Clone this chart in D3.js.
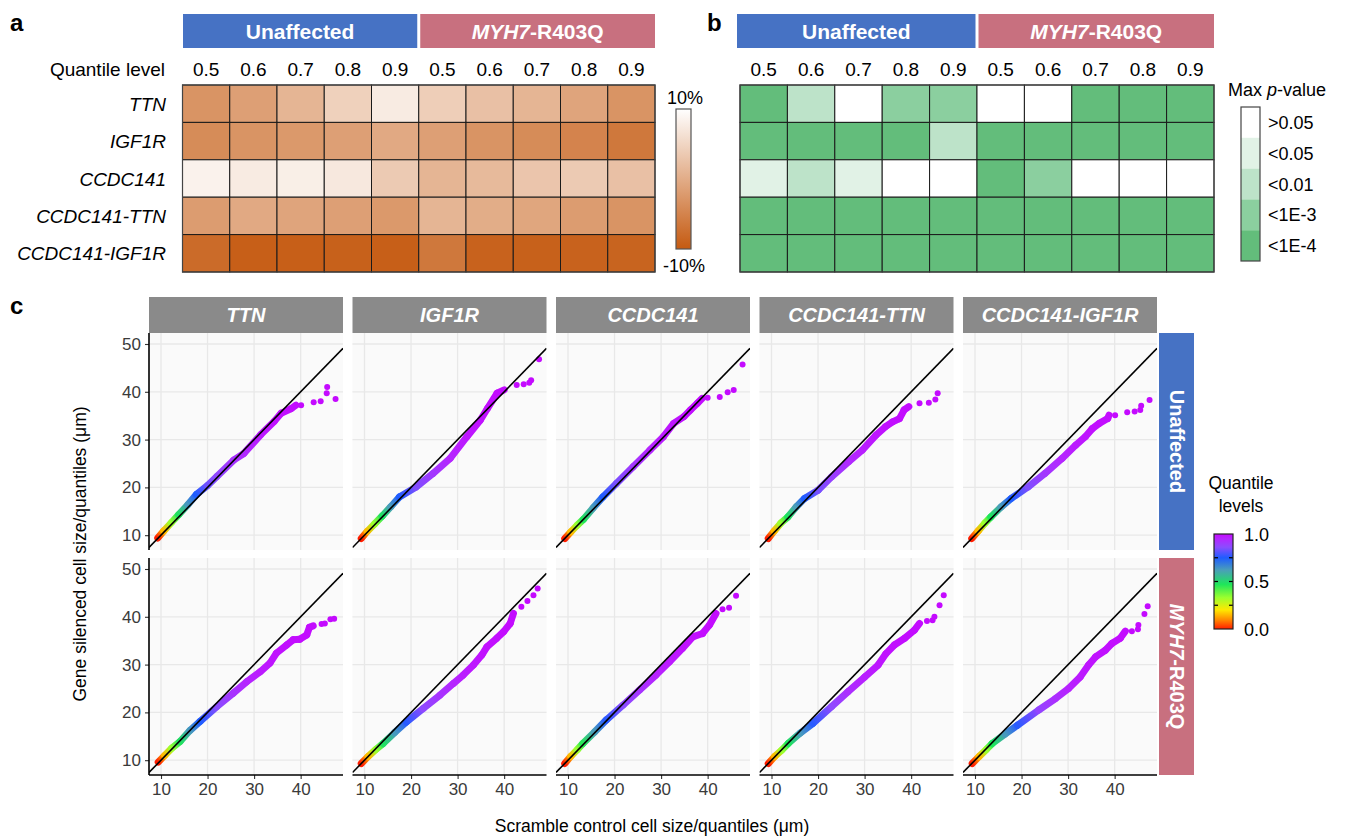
<!DOCTYPE html>
<html><head><meta charset="utf-8">
<script src="https://cdn.jsdelivr.net/npm/d3@7"></script>
<style>body{margin:0;background:#fff;} svg{font-family:"Liberation Sans",Arial,Helvetica,sans-serif;}</style>
</head><body><svg id="chart" width="1345" height="839"></svg>
<script>
// ---------------- DATA ----------------
const genes = ["TTN","IGF1R","CCDC141","CCDC141-TTN","CCDC141-IGF1R"];
const groups = ["Unaffected","MYH7-R403Q"];
const quantileLevels = ["0.5","0.6","0.7","0.8","0.9"];
// panel a: % change in cell size (rows = genes, cols = quantile levels)
const pctUnaffected = [
  [-3.0,-1.6, 1.0, 4.4, 7.6],
  [-4.0,-3.0,-2.4,-1.6,-0.4],
  [ 8.4, 7.6, 8.0, 7.2, 3.6],
  [-2.0,-0.4,-1.0,-1.6,-2.4],
  [-8.0,-9.4,-9.4,-9.2,-9.4]];
const pctMYH7 = [
  [ 4.0, 2.4, 1.0,-1.0,-3.0],
  [-1.6,-3.0,-4.0,-5.0,-6.4],
  [ 1.0, 1.6, 3.0, 3.6, 2.4],
  [ 1.0, 0.0,-0.8,-2.0,-3.0],
  [-6.4,-9.0,-9.2,-9.0,-8.8]];
const pctTicks = ["10%","-10%"];
// panel b: max p-value category (index into pLevels)
const pLevels = [">0.05","<0.05","<0.01","<1E-3","<1E-4"];
const pColors = ["#ffffff","#e1f2e6","#bde3c9","#8bcf9f","#63bd7b"];
const pUnaffected = [[4,2,0,3,3],[4,4,4,4,2],[1,2,1,0,0],[4,4,4,4,4],[4,4,4,4,4]];
const pMYH7       = [[0,0,4,4,4],[4,4,4,4,4],[4,3,0,0,0],[4,4,4,4,4],[4,4,4,4,4]];
// panel c: QQ points [control quantile, silenced quantile, quantile level]
const bandTTN_U = [[9.3,9.4,0],[10.6,10.9,0.15],[12.2,12.6,0.33],[13.8,14.3,0.48],[15.8,16.4,0.63],[17.6,18.5,0.75],[20,20.4,0.83],[22,22.3,0.87],[25.6,25.7,0.92],[27.8,27.1,0.94],[31.4,31,0.97],[34.3,33.8,0.985],[35.8,35.5,0.99],[38,36.5,0.994],[39,37.2,0.996]];
const tailTTN_U = [[40.1,37.2,1],[42.8,37.8,1],[44.3,38,1],[45.6,39.7,1],[45.7,41,1],[47.5,38.5,1]];
const bandIGF1R_U = [[9.3,9.3,0],[10.6,10.8,0.15],[12.2,12.4,0.33],[13.8,14,0.48],[15.6,15.9,0.62],[17.5,18,0.75],[21.1,20.1,0.85],[24.7,22.9,0.91],[28.4,26.05,0.95],[32,30.6,0.975],[34.9,34.1,0.987],[36.4,36.5,0.992],[38.5,39.7,0.996],[40,40.4,0.997]];
const tailIGF1R_U = [[42.7,41.4,1],[44.2,41.6,1],[45.4,41.9,1],[45.8,42.4,1],[47.5,46.8,1]];
const bandCCDC141_U = [[9.3,9.3,0],[10.6,10.7,0.15],[12,12.1,0.33],[13.3,13.3,0.47],[15.4,15.7,0.62],[17.5,18,0.75],[20.4,20.8,0.84],[24,24.3,0.91],[27.6,27.8,0.95],[30.5,30.6,0.97],[32.7,33.4,0.98],[34.9,34.8,0.988],[36.3,36.2,0.992],[37.8,37.6,0.995],[38.8,38.6,0.996]];
const tailCCDC141_U = [[40,38.75,1],[42.6,38.9,1],[44.3,39.9,1],[45.6,40.4,1],[47.5,45.7,1]];
const bandCT_U = [[9.3,9.3,0],[10.6,10.9,0.15],[12,12.5,0.33],[13.5,13.8,0.47],[15.3,15.9,0.62],[17.1,17.7,0.75],[20,19.4,0.84],[22.9,22.2,0.89],[26.6,25.4,0.94],[29.5,27.8,0.96],[32.4,30.9,0.98],[34.5,32.7,0.987],[36,33.7,0.991],[37.5,34.4,0.994],[38.5,36.2,0.996],[39.5,36.9,0.997]];
const tailCT_U = [[41.8,37.6,1],[43.8,37.7,1],[45.2,38.4,1],[45.7,39.7,1]];
const bandCI_U = [[9.3,9.3,0],[10.7,10.9,0.15],[12.1,12.5,0.33],[13.4,13.8,0.47],[15.6,15.9,0.62],[17.8,17.7,0.75],[21.4,20.1,0.85],[25,22.9,0.91],[28.7,26.05,0.95],[31.6,28.8,0.97],[33.7,30.6,0.98],[35.2,32.3,0.988],[36.7,33.4,0.992],[38.5,34.4,0.995],[38.8,35.1,0.996]];
const tailCI_U = [[40.1,35.1,1],[42.7,35.7,1],[44.3,35.9,1],[45.5,36.2,1],[45.7,37.1,1],[47.5,38.3,1]];
const bandTTN_M = [[9.4,9.6,0],[10.8,11,0.15],[12.3,12.5,0.33],[14.1,13.9,0.48],[16.2,16.2,0.63],[18.4,18.1,0.75],[22,21.2,0.86],[25.5,24,0.92],[28.4,26.4,0.95],[31.3,28.5,0.97],[33.4,30.3,0.98],[34.8,32.4,0.986],[37,34.1,0.991],[38.4,35.2,0.994],[39.8,35.3,0.995],[41.3,36.2,0.996],[41.9,37.8,0.997],[42.7,38.1,0.997]];
const tailTTN_M = [[44.5,38.5,1],[45.2,38.6,1],[46.4,39.5,1],[47.2,39.6,1]];
const bandIGF1R_M = [[9.3,9.3,0],[10.8,10.8,0.15],[12.4,12.2,0.33],[14,13.5,0.48],[16.5,15.8,0.63],[19,18,0.76],[22.6,20.8,0.87],[26.2,23.6,0.92],[29.1,26.05,0.95],[31.2,27.8,0.965],[33.4,29.9,0.977],[35.2,32,0.985],[36.3,33.7,0.989],[38.4,35.5,0.993],[39.9,36.9,0.995],[41.3,38.6,0.997],[42,40.7,0.998]];
const tailIGF1R_M = [[43.7,42.1,1],[45,43.3,1],[46.3,44.5,1],[47.2,45.9,1]];
const bandCCDC141_M = [[9.3,9.3,0],[10.6,10.8,0.15],[12,12.2,0.33],[13.2,13.5,0.46],[15.7,15.9,0.62],[18.2,18.4,0.76],[21.8,21.5,0.86],[25.4,24.7,0.92],[28.9,27.8,0.955],[31.8,30.6,0.972],[34.6,33.4,0.984],[36.8,35.8,0.99],[38.9,36.5,0.994],[40.4,38.3,0.996],[41.8,40.7,0.997]];
const tailCCDC141_M = [[43.2,41.6,1],[44.6,41.9,1],[46.1,44.4,1]];
const bandCT_M = [[9.3,9.3,0],[10.7,10.8,0.15],[12.2,12.1,0.33],[13.6,13.5,0.47],[16.2,15.7,0.63],[18.9,17.7,0.76],[22.9,21.2,0.87],[26.4,24.3,0.93],[30,27.4,0.96],[32.9,29.9,0.977],[34.6,32.3,0.985],[36.4,34.1,0.99],[38.6,35.5,0.994],[40.7,37.2,0.996],[41.8,38.6,0.997]];
const tailCT_M = [[43.4,39.1,1],[44.6,39.3,1],[45,40,1],[46.1,42.4,1],[47,44.5,1]];
const bandCI_M = [[9.4,9.3,0],[10.9,10.8,0.15],[12.4,12.2,0.33],[13.7,13.5,0.47],[16.5,15.5,0.63],[19.1,17.3,0.76],[23.7,20.5,0.88],[27.3,22.9,0.93],[30.1,25,0.955],[32.6,27.4,0.97],[34.4,29.9,0.98],[35.9,31.6,0.986],[38,33,0.99],[39.4,34.4,0.993],[41.2,35.5,0.995],[42.3,37,0.997]];
const tailCI_M = [[43.7,37,1],[45,37.4,1],[45.1,38.3,1],[46.4,40.6,1],[47.1,42.2,1]];
const xTicks = [10,20,30,40];
const yTicks = [10,20,30,40,50];
const qLegendTicks = [0,0.5,1];
const qStops  = [0, 0.1, 0.2, 0.33, 0.47, 0.62, 0.75, 0.86, 0.95, 1];
const qColors = ["#ff1e00","#ff8c00","#ffe800","#9cff2e","#1ee65a","#4a9fb8","#1f5cff","#8a4dff","#b526ff","#c40aff"];

// ---------------- DRAWING ----------------
const svg = d3.select("#chart");
const defs = svg.append("defs");
const groupColors = ["#4672c4","#c8707f"];

function groupLabel(sel, gi){
  if (gi === 0) { sel.text(groups[0]); }
  else { sel.append("tspan").style("font-style","italic").text("MYH7"); sel.append("tspan").text("-R403Q"); }
}

[["a",10,31],["b",707,31],["c",10,314]].forEach(d=>{
  svg.append("text").attr("x",d[1]).attr("y",d[2]).attr("font-size",24).attr("font-weight","bold").text(d[0]);
});

const colKeys = [];
groups.forEach((g,gi)=>quantileLevels.forEach((q,qi)=>colKeys.push(gi+"_"+qi)));

function heatPanel(x0, x1, hdrX0, fillFn, showRowLabels){
  const xb = d3.scaleBand().domain(colKeys).range([x0,x1]);
  const yb = d3.scaleBand().domain(genes).range([85,272]);
  groups.forEach((g,gi)=>{
    const left = gi===0 ? hdrX0 : xb(gi+"_0")+1.5;
    const right = gi===0 ? xb("0_4")+xb.bandwidth()-1.5 : x1;
    svg.append("rect").attr("x",left).attr("y",14).attr("width",right-left).attr("height",34).attr("fill",groupColors[gi]);
    const t = svg.append("text").attr("x",(left+right)/2).attr("y",38.5).attr("text-anchor","middle")
      .attr("font-size",21).attr("font-weight","bold").attr("fill","#fff");
    groupLabel(t, gi);
  });
  colKeys.forEach(k=>{
    const qi = +k.split("_")[1];
    svg.append("text").attr("x",xb(k)+xb.bandwidth()/2).attr("y",76).attr("text-anchor","middle").attr("font-size",19).text(quantileLevels[qi]);
  });
  genes.forEach((g,ri)=>{
    colKeys.forEach(k=>{
      const [gi,qi] = k.split("_").map(Number);
      svg.append("rect").attr("x",xb(k)).attr("y",yb(g)).attr("width",xb.bandwidth()).attr("height",yb.bandwidth())
        .attr("fill",fillFn(ri,gi,qi)).attr("stroke","#1a1a1a").attr("stroke-width",1);
    });
    if (showRowLabels) svg.append("text").attr("x",166).attr("y",yb(g)+yb.bandwidth()/2+7).attr("text-anchor","end")
      .attr("font-size",19).style("font-style","italic").text(g);
  });
  svg.append("rect").attr("x",x0).attr("y",85).attr("width",x1-x0).attr("height",187).attr("fill","none").attr("stroke","#444").attr("stroke-width",1.2);
}

const pctColor = d3.scaleLinear().domain([-10,10]).range(["#c55a11","#ffffff"]);
heatPanel(182.5, 655, 183, (ri,gi,qi)=>pctColor((gi===0?pctUnaffected:pctMYH7)[ri][qi]), true);
svg.append("text").attr("x",165).attr("y",76).attr("text-anchor","end").attr("font-size",19).text("Quantile level");
const ga = defs.append("linearGradient").attr("id","gradA").attr("x1",0).attr("y1",0).attr("x2",0).attr("y2",1);
ga.append("stop").attr("offset",0).attr("stop-color",pctColor(10));
ga.append("stop").attr("offset",1).attr("stop-color",pctColor(-10));
svg.append("rect").attr("x",676).attr("y",109).attr("width",15).attr("height",140).attr("fill","url(#gradA)").attr("stroke","#555").attr("stroke-width",1.2);
svg.append("text").attr("x",685).attr("y",104).attr("text-anchor","middle").attr("font-size",18).text(pctTicks[0]);
svg.append("text").attr("x",684).attr("y",272).attr("text-anchor","middle").attr("font-size",18).text(pctTicks[1]);

heatPanel(740, 1214, 737, (ri,gi,qi)=>pColors[(gi===0?pUnaffected:pMYH7)[ri][qi]], false);
const mp = svg.append("text").attr("x",1228).attr("y",96).attr("font-size",18);
mp.append("tspan").text("Max ");
mp.append("tspan").style("font-style","italic").text("p");
mp.append("tspan").text("-value");
const segH = 154/pLevels.length;
pLevels.forEach((lab,i)=>{
  svg.append("rect").attr("x",1241).attr("y",107+i*segH).attr("width",19).attr("height",segH).attr("fill",pColors[i]);
  svg.append("text").attr("x",1268).attr("y",107+i*segH+segH/2+6.5).attr("font-size",18).text(lab);
});
svg.append("rect").attr("x",1241).attr("y",107).attr("width",19).attr("height",154).attr("fill","none").attr("stroke","#444").attr("stroke-width",1.2);

const qColor = d3.scaleLinear().domain(qStops).range(qColors).interpolate(d3.interpolateRgb);
const facetBands = [[bandTTN_U,bandIGF1R_U,bandCCDC141_U,bandCT_U,bandCI_U],[bandTTN_M,bandIGF1R_M,bandCCDC141_M,bandCT_M,bandCI_M]];
const facetTails = [[tailTTN_U,tailIGF1R_U,tailCCDC141_U,tailCT_U,tailCI_U],[tailTTN_M,tailIGF1R_M,tailCCDC141_M,tailCT_M,tailCI_M]];
const xq = d3.scaleLinear().domain([7.42,49.1]);
const yq = d3.scaleLinear().domain([6.9,52.3]);
const panelW = 194, panelH = 217;
const rowTop = [333,558];
const tickColor = "#333";

genes.forEach((gname,c)=>{
  const px0 = 149 + c*203.5;
  svg.append("rect").attr("x",px0).attr("y",297).attr("width",panelW).attr("height",36).attr("fill","#8a8a8a");
  svg.append("text").attr("x",px0+panelW/2).attr("y",322).attr("text-anchor","middle").attr("font-size",20)
    .attr("font-weight","bold").style("font-style","italic").attr("fill","#fff").text(gname);
  [0,1].forEach(r=>{
    const py0 = rowTop[r];
    const x = xq.copy().range([0,panelW]);
    const y = yq.copy().range([panelH,0]);
    const g = svg.append("g").attr("transform",`translate(${px0},${py0})`);
    const cid = `clip${r}${c}`;
    defs.append("clipPath").attr("id",cid).append("rect").attr("width",panelW).attr("height",panelH);
    g.append("rect").attr("width",panelW).attr("height",panelH).attr("fill","#fafafa");
    xTicks.forEach(v=>g.append("line").attr("x1",x(v)).attr("x2",x(v)).attr("y1",0).attr("y2",panelH).attr("stroke","#e8e8e8").attr("stroke-width",1.3));
    yTicks.forEach(v=>g.append("line").attr("y1",y(v)).attr("y2",y(v)).attr("x1",0).attr("x2",panelW).attr("stroke","#e8e8e8").attr("stroke-width",1.3));
    const pg = g.append("g").attr("clip-path",`url(#${cid})`);
    const band = facetBands[r][c];
    band.forEach((p,i)=>{
      if (i===0) return;
      const a = band[i-1];
      const id = `seg${r}${c}_${i}`;
      const lg = defs.append("linearGradient").attr("id",id).attr("gradientUnits","userSpaceOnUse")
        .attr("x1",x(a[0])).attr("y1",y(a[1])).attr("x2",x(p[0])).attr("y2",y(p[1]));
      lg.append("stop").attr("offset",0).attr("stop-color",qColor(a[2]));
      lg.append("stop").attr("offset",1).attr("stop-color",qColor(p[2]));
      pg.append("line").attr("x1",x(a[0])).attr("y1",y(a[1])).attr("x2",x(p[0])).attr("y2",y(p[1]))
        .attr("stroke",`url(#${id})`).attr("stroke-width",7).attr("stroke-linecap","round");
    });
    pg.selectAll("circle.t").data(facetTails[r][c]).enter().append("circle")
      .attr("cx",d=>x(d[0])).attr("cy",d=>y(d[1])).attr("r",3).attr("fill",d=>qColor(d[2]));
    const d0 = xq.domain();
    pg.append("line").attr("x1",x(d0[0])).attr("y1",y(d0[0])).attr("x2",x(d0[1])).attr("y2",y(d0[1]))
      .attr("stroke","#000").attr("stroke-width",1.6);
    if (c===0){
      const ax = g.append("g").call(d3.axisLeft(y).tickValues(yTicks).tickSize(4).tickPadding(4));
      ax.select(".domain").remove();
      ax.selectAll("line").attr("stroke",tickColor).attr("stroke-width",1.1);
      ax.selectAll("text").attr("font-size",17).attr("fill","#3a3a3a").attr("font-family","Liberation Sans, Arial, sans-serif");
      g.append("line").attr("x1",0).attr("x2",0).attr("y1",0).attr("y2",panelH).attr("stroke","#000").attr("stroke-width",1.6);
    }
    if (r===1){
      const ax = g.append("g").attr("transform",`translate(0,${panelH})`).call(d3.axisBottom(x).tickValues(xTicks).tickSize(4).tickPadding(4));
      ax.select(".domain").remove();
      ax.selectAll("line").attr("stroke",tickColor).attr("stroke-width",1.1);
      ax.selectAll("text").attr("font-size",17).attr("fill","#3a3a3a").attr("font-family","Liberation Sans, Arial, sans-serif");
      g.append("line").attr("x1",0).attr("x2",panelW).attr("y1",panelH).attr("y2",panelH).attr("stroke","#000").attr("stroke-width",1.6);
    }
  });
});
[0,1].forEach(r=>{
  const py0 = rowTop[r];
  svg.append("rect").attr("x",1159).attr("y",py0).attr("width",35).attr("height",panelH).attr("fill",groupColors[r]);
  const t = svg.append("text").attr("transform",`translate(${1176.5-7},${py0+panelH/2}) rotate(90)`).attr("text-anchor","middle")
    .attr("font-size",20).attr("font-weight","bold").attr("fill","#fff");
  groupLabel(t, r);
});
svg.append("text").attr("transform","translate(86,554) rotate(-90)").attr("text-anchor","middle").attr("font-size",17.5)
  .text("Gene silenced cell size/quantiles (\u03bcm)");
svg.append("text").attr("x",652).attr("y",832).attr("text-anchor","middle").attr("font-size",17.5)
  .text("Scramble control cell size/quantiles (\u03bcm)");
svg.append("text").attr("x",1241).attr("y",489).attr("text-anchor","middle").attr("font-size",17.5).text("Quantile");
svg.append("text").attr("x",1241).attr("y",512).attr("text-anchor","middle").attr("font-size",17.5).text("levels");
const gq = defs.append("linearGradient").attr("id","gradQ").attr("x1",0).attr("y1",1).attr("x2",0).attr("y2",0);
qStops.forEach((s,i)=>gq.append("stop").attr("offset",s).attr("stop-color",qColors[i]));
const lq = d3.scaleLinear().domain([0,1]).range([629,534]);
svg.append("rect").attr("x",1214).attr("y",534).attr("width",19).attr("height",95).attr("fill","url(#gradQ)");
[0.25,0.5,0.75].forEach(v=>{
  svg.append("line").attr("x1",1214).attr("x2",1218).attr("y1",lq(v)).attr("y2",lq(v)).attr("stroke","#000").attr("stroke-width",1.2);
  svg.append("line").attr("x1",1229).attr("x2",1233).attr("y1",lq(v)).attr("y2",lq(v)).attr("stroke","#000").attr("stroke-width",1.2);
});
svg.append("rect").attr("x",1214).attr("y",534).attr("width",19).attr("height",95).attr("fill","none").attr("stroke","#222").attr("stroke-width",1.2);
qLegendTicks.forEach(v=>{
  svg.append("text").attr("x",1244).attr("y",lq(v)+6.5).attr("font-size",18).text(d3.format(".1f")(v));
});
</script></body></html>
